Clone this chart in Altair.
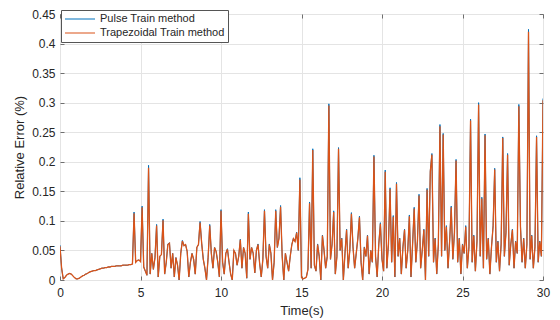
import altair as alt
import pandas as pd

# ---- data (t = 0.0 .. 30.0 s, step 0.1 s) ----
time_s = [round(i * 0.1, 1) for i in range(301)]

pulse_train = [
    0.059, 0.020, 0.002, 0.004, 0.008, 0.010, 0.011, 0.010, 0.007, 0.004,
    0.002, 0.002, 0.003, 0.005, 0.007, 0.008, 0.010, 0.011, 0.013, 0.014,
    0.015, 0.016, 0.016, 0.017, 0.018, 0.019, 0.020, 0.020, 0.021, 0.021,
    0.022, 0.022, 0.023, 0.023, 0.023, 0.024, 0.024, 0.024, 0.024, 0.025,
    0.025, 0.025, 0.025, 0.026, 0.026, 0.027, 0.115, 0.030, 0.033, 0.034,
    0.031, 0.125, 0.022, 0.015, 0.008, 0.194, 0.010, 0.045, 0.018, 0.038,
    0.094, 0.005, 0.040, 0.043, 0.103, 0.010, 0.030, 0.061, 0.063, 0.020,
    0.045, 0.005, 0.038, 0.025, 0.000, 0.045, 0.067, 0.058, 0.060, 0.048,
    0.005, 0.030, 0.045, 0.035, 0.010, 0.055, 0.060, 0.099, 0.062, 0.035,
    0.020, 0.000, 0.038, 0.094, 0.045, 0.020, 0.055, 0.048, 0.030, 0.005,
    0.119, 0.030, 0.010, 0.045, 0.053, 0.030, 0.010, 0.000, 0.050, 0.045,
    0.025, 0.040, 0.069, 0.020, 0.055, 0.045, 0.003, 0.115, 0.035, 0.055,
    0.045, 0.012, 0.050, 0.061, 0.028, 0.005, 0.035, 0.119, 0.040, 0.020,
    0.061, 0.045, 0.000, 0.030, 0.119, 0.055, 0.071, 0.126, 0.040, 0.000,
    0.045, 0.030, 0.015, 0.040, 0.060, 0.071, 0.065, 0.081, 0.050, 0.173,
    0.004, 0.002, 0.003, 0.005, 0.018, 0.132, 0.020, 0.222, 0.025, 0.015,
    0.061, 0.040, 0.000, 0.076, 0.050, 0.020, 0.040, 0.298, 0.035, 0.061,
    0.117, 0.010, 0.040, 0.224, 0.050, 0.071, 0.000, 0.045, 0.086, 0.020,
    0.050, 0.114, 0.056, 0.020, 0.045, 0.071, 0.108, 0.030, 0.000, 0.056,
    0.040, 0.076, 0.010, 0.050, 0.030, 0.211, 0.040, 0.005, 0.061, 0.097,
    0.035, 0.015, 0.186, 0.020, 0.061, 0.156, 0.030, 0.109, 0.005, 0.165,
    0.040, 0.071, 0.010, 0.056, 0.086, 0.020, 0.050, 0.110, 0.005, 0.061,
    0.123, 0.030, 0.066, 0.145, 0.020, 0.050, 0.086, 0.000, 0.155, 0.040,
    0.185, 0.214, 0.030, 0.071, 0.010, 0.061, 0.263, 0.040, 0.248, 0.050,
    0.092, 0.020, 0.066, 0.125, 0.035, 0.081, 0.204, 0.030, 0.071, 0.010,
    0.061, 0.045, 0.092, 0.020, 0.056, 0.272, 0.030, 0.076, 0.015, 0.066,
    0.300, 0.040, 0.140, 0.020, 0.247, 0.035, 0.071, 0.010, 0.056, 0.092,
    0.189, 0.030, 0.066, 0.015, 0.061, 0.242, 0.040, 0.081, 0.214, 0.025,
    0.061, 0.086, 0.020, 0.066, 0.045, 0.297, 0.092, 0.030, 0.071, 0.020,
    0.061, 0.424, 0.035, 0.076, 0.020, 0.056, 0.244, 0.030, 0.066, 0.040,
    0.307,
]

trapezoidal_train = [
    0.057, 0.020, 0.002, 0.004, 0.008, 0.010, 0.011, 0.010, 0.007, 0.004,
    0.002, 0.002, 0.003, 0.005, 0.007, 0.008, 0.010, 0.011, 0.013, 0.014,
    0.015, 0.016, 0.016, 0.017, 0.018, 0.019, 0.020, 0.020, 0.021, 0.021,
    0.022, 0.022, 0.023, 0.023, 0.023, 0.024, 0.024, 0.024, 0.024, 0.025,
    0.025, 0.025, 0.025, 0.026, 0.026, 0.027, 0.113, 0.030, 0.033, 0.034,
    0.031, 0.123, 0.022, 0.015, 0.008, 0.190, 0.010, 0.045, 0.018, 0.038,
    0.092, 0.005, 0.040, 0.043, 0.101, 0.010, 0.030, 0.060, 0.062, 0.020,
    0.045, 0.005, 0.038, 0.025, 0.000, 0.045, 0.066, 0.058, 0.060, 0.048,
    0.005, 0.030, 0.045, 0.035, 0.010, 0.055, 0.060, 0.097, 0.062, 0.035,
    0.020, 0.000, 0.038, 0.092, 0.045, 0.020, 0.055, 0.048, 0.030, 0.005,
    0.117, 0.030, 0.010, 0.045, 0.052, 0.030, 0.010, 0.000, 0.050, 0.045,
    0.025, 0.040, 0.068, 0.020, 0.055, 0.045, 0.003, 0.112, 0.035, 0.055,
    0.045, 0.012, 0.050, 0.060, 0.028, 0.005, 0.035, 0.117, 0.040, 0.020,
    0.060, 0.045, 0.000, 0.030, 0.117, 0.055, 0.070, 0.124, 0.040, 0.000,
    0.045, 0.030, 0.015, 0.040, 0.060, 0.070, 0.065, 0.080, 0.050, 0.170,
    0.004, 0.002, 0.003, 0.005, 0.018, 0.130, 0.020, 0.220, 0.025, 0.015,
    0.060, 0.040, 0.000, 0.075, 0.050, 0.020, 0.040, 0.295, 0.035, 0.060,
    0.115, 0.010, 0.040, 0.222, 0.050, 0.070, 0.000, 0.045, 0.085, 0.020,
    0.050, 0.112, 0.055, 0.020, 0.045, 0.070, 0.106, 0.030, 0.000, 0.055,
    0.040, 0.075, 0.010, 0.050, 0.030, 0.209, 0.040, 0.005, 0.060, 0.095,
    0.035, 0.015, 0.183, 0.020, 0.060, 0.154, 0.030, 0.107, 0.005, 0.163,
    0.040, 0.070, 0.010, 0.055, 0.085, 0.020, 0.050, 0.108, 0.005, 0.060,
    0.121, 0.030, 0.065, 0.143, 0.020, 0.050, 0.085, 0.000, 0.153, 0.040,
    0.183, 0.212, 0.030, 0.070, 0.010, 0.060, 0.260, 0.040, 0.246, 0.050,
    0.090, 0.020, 0.065, 0.123, 0.035, 0.080, 0.202, 0.030, 0.070, 0.010,
    0.060, 0.045, 0.090, 0.020, 0.055, 0.270, 0.030, 0.075, 0.015, 0.065,
    0.297, 0.040, 0.138, 0.020, 0.245, 0.035, 0.070, 0.010, 0.055, 0.090,
    0.187, 0.030, 0.065, 0.015, 0.060, 0.240, 0.040, 0.080, 0.212, 0.025,
    0.060, 0.085, 0.020, 0.065, 0.045, 0.294, 0.090, 0.030, 0.070, 0.020,
    0.060, 0.420, 0.035, 0.075, 0.020, 0.055, 0.242, 0.030, 0.065, 0.040,
    0.304,
]

series_names = ["Pulse Train method", "Trapezoidal Train method"]
series_colors = ["#0072BD", "#D95319"]
x_ticks = [0, 5, 10, 15, 20, 25, 30]
y_ticks = [0, 0.05, 0.1, 0.15, 0.2, 0.25, 0.3, 0.35, 0.4, 0.45]

n = len(time_s)
df_pulse = pd.DataFrame({"t": time_s, "v": pulse_train, "s": [series_names[0]] * n})
df_trap = pd.DataFrame({"t": time_s, "v": trapezoidal_train, "s": [series_names[1]] * n})

FONT = "Liberation Sans"
TXT = "#262626"
AX = "#6e6e6e"

xs = alt.Scale(domain=[0, 30], nice=False, zero=False)
ys = alt.Scale(domain=[0, 0.45], nice=False, zero=False)
cs = alt.Scale(domain=series_names, range=series_colors)

legend = alt.Legend(
    orient="none", legendX=1, legendY=-4, title=None,
    symbolType="stroke", symbolSize=900, symbolStrokeWidth=1.2,
    labelFontSize=11, labelFont=FONT, labelColor=TXT,
    strokeColor="#555555", fillColor="white", padding=3,
    labelOffset=4, rowPadding=2, clipHeight=12, cornerRadius=0)

x_main = alt.X("t:Q", scale=xs, axis=alt.Axis(
    values=x_ticks, title="Time(s)", grid=True, ticks=False, domain=False,
    labelPadding=7, titlePadding=6, labelFontSize=12, titleFontSize=13,
    labelFont=FONT, titleFont=FONT, labelColor=TXT, titleColor=TXT,
    titleFontWeight="normal", gridColor="#e4e4e4", labelFlush=False))
y_main = alt.Y("v:Q", scale=ys, axis=alt.Axis(
    values=y_ticks, format="~g", title="Relative Error (%)", grid=True,
    ticks=False, domain=False, labelPadding=5, titlePadding=5,
    labelFontSize=12, titleFontSize=13, labelFont=FONT, titleFont=FONT,
    labelColor=TXT, titleColor=TXT, titleFontWeight="normal",
    gridColor="#e4e4e4"))

line_pulse = alt.Chart(df_pulse).mark_line(strokeWidth=1, clip=True).encode(
    x=x_main, y=y_main,
    color=alt.Color("s:N", scale=cs, legend=legend),
)
line_trap = alt.Chart(df_trap).mark_line(strokeWidth=1.3, clip=True).encode(
    x=alt.X("t:Q", scale=xs, axis=None),
    y=alt.Y("v:Q", scale=ys, axis=None),
    color=alt.Color("s:N", scale=cs, legend=legend),
)

ticks_bl = alt.Chart(df_trap).mark_point(opacity=0).encode(
    x=alt.X("t:Q", scale=xs, axis=alt.Axis(
        orient="bottom", values=x_ticks, labels=False, title=None, grid=False,
        domain=False, ticks=True, tickSize=4, offset=-4, tickColor=AX)),
    y=alt.Y("v:Q", scale=ys, axis=alt.Axis(
        orient="left", values=y_ticks, labels=False, title=None, grid=False,
        domain=False, ticks=True, tickSize=4, offset=-4, tickColor=AX)),
)

ticks_tr = alt.Chart(df_trap).mark_point(opacity=0).encode(
    x=alt.X("t:Q", scale=xs, axis=alt.Axis(
        orient="top", values=x_ticks, labels=False, title=None, grid=False,
        domain=False, ticks=True, tickSize=4, offset=-4, tickColor=AX)),
    y=alt.Y("v:Q", scale=ys, axis=alt.Axis(
        orient="right", values=y_ticks, labels=False, title=None, grid=False,
        domain=False, ticks=True, tickSize=4, offset=-4, tickColor=AX)),
)

chart = alt.layer(line_pulse, line_trap, ticks_bl, ticks_tr).resolve_axis(
    x="independent", y="independent"
).properties(
    width=483, height=266,
    autosize=alt.AutoSizeParams(type="none"),
    padding={"left": 52, "top": 6, "right": 9, "bottom": 38},
    background="white",
).configure_view(stroke=AX, strokeWidth=1)

chart.save("out.html", embed_options={"renderer": "svg", "actions": False})
